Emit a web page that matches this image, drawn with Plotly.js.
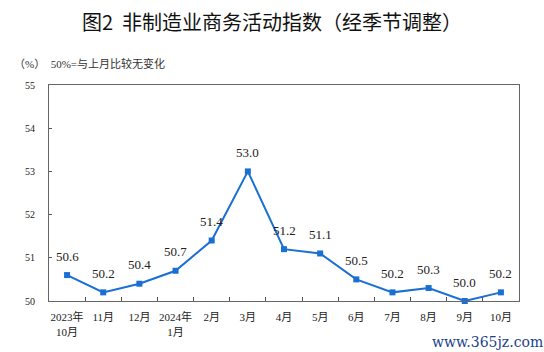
<!DOCTYPE html>
<html><head><meta charset="utf-8">
<script src="https://cdn.plot.ly/plotly-3.0.1.min.js"></script>
<style>body{margin:0;background:#fff}#c{width:544px;height:352px}</style>
</head><body><div id="c"></div>
<script>
var categories = ["2023年<br>10月","11月","12月","2024年<br>1月","2月","3月","4月","5月","6月","7月","8月","9月","10月"];
var values = [50.6,50.2,50.4,50.7,51.4,53.0,51.2,51.1,50.5,50.2,50.3,50.0,50.2];
var yTicks = [50,51,52,53,54,55];

var serif = "Liberation Serif, Times New Roman, Noto Sans CJK SC, serif";
var trace = {
  x: categories, y: values, type: "scatter", mode: "lines+markers",
  line: {color: "#1a6fd4", width: 2},
  marker: {symbol: "square", size: 6, color: "#1a6fd4"},
  cliponaxis: false, hoverinfo: "none"
};
var labelAnns = categories.map(function(c, i){
  return {x: c, y: values[i], xref: "x", yref: "y", text: values[i].toFixed(1), showarrow: false,
          yshift: 19, xanchor: "center", yanchor: "middle",
          font: {family: serif, size: 13, color: "#222"}};
});
var layout = {
  width: 544, height: 352,
  margin: {l: 49, r: 25, t: 85, b: 51},
  paper_bgcolor: "#fff", plot_bgcolor: "#fff",
  showlegend: false,
  title: {text: "图2  非制造业商务活动指数（经季节调整）", x: 0.5, xanchor: "center", y: 0.935, yanchor: "middle",
          font: {family: "Noto Sans CJK SC, sans-serif", size: 20, color: "#111"}},
  xaxis: {type: "category", range: [-0.5, 12.5], tickson: "boundaries", ticks: "inside", ticklen: 4,
          tickangle: 0, tickcolor: "#555", showline: true, linecolor: "#666", linewidth: 1, mirror: true,
          showgrid: false, zeroline: false, ticklabelstandoff: 6,
          tickfont: {family: serif, size: 11, color: "#222"}, fixedrange: true},
  yaxis: {range: [50, 55], tickvals: yTicks, ticktext: yTicks.map(String), ticks: "inside", ticklen: 3,
          tickcolor: "#555", showline: true, linecolor: "#666", linewidth: 1, mirror: true,
          showgrid: false, zeroline: false, ticklabelstandoff: 11,
          tickfont: {family: serif, size: 10, color: "#222"}, fixedrange: true},
  annotations: labelAnns.concat([
    {text: "（%）  50%=与上月比较无变化", xref: "paper", yref: "paper", x: -0.078, y: 1.1, xanchor: "left", yanchor: "middle",
     showarrow: false, font: {family: serif, size: 11, color: "#333"}},
    {text: "www.365jz.com", xref: "paper", yref: "paper", x: 1.055, y: -0.19, xanchor: "right", yanchor: "middle",
     showarrow: false, font: {family: "DejaVu Serif, serif", size: 14, color: "#1c3f8c"}}
  ])
};
Plotly.newPlot("c", [trace], layout, {staticPlot: true});
</script></body></html>
